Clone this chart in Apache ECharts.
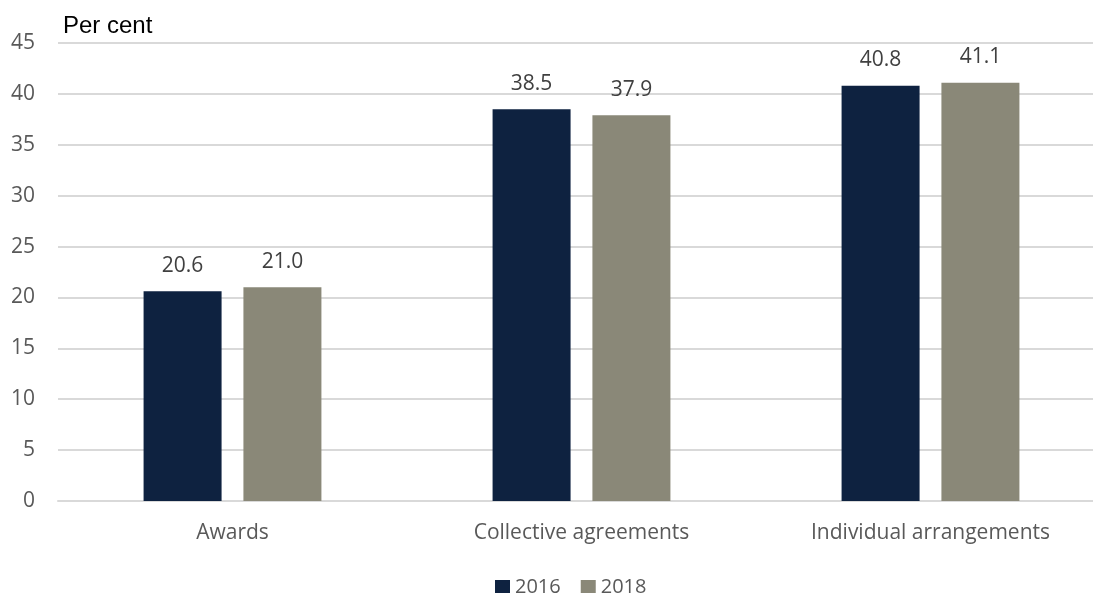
<!DOCTYPE html>
<html><head><meta charset="utf-8">
<script src="https://cdn.jsdelivr.net/npm/echarts@6/dist/echarts.min.js"></script>
<style>html,body{margin:0;padding:0;background:#fff}#c{width:1093px;height:593px}</style>
</head><body><div id="c"></div>
<script>
const categories = ['Awards', 'Collective agreements', 'Individual arrangements'];
const seriesNames = ['2016', '2018'];
const values2016 = [20.6, 38.5, 40.8];
const values2018 = [21.0, 37.9, 41.1];
const colors = ['#0E2240', '#8A8878'];
const font = '"Open Sans", sans-serif';

const chart = echarts.init(document.getElementById('c'));
const mk = (name, data, color) => ({
  name, type: 'bar', data, barWidth: 78, barGap: '28%',
  itemStyle: { color },
  label: { show: true, position: 'top', distance: 15, color: '#404040', fontSize: 21, fontFamily: font,
    formatter: p => p.value.toFixed(1) }
});
chart.setOption({
  animation: false,
  color: colors,
  title: { text: 'Per cent', left: 58, top: 9, textStyle: { fontFamily: 'Liberation Sans, Arial, sans-serif', fontSize: 24, fontWeight: 'normal', color: '#000' } },
  legend: { data: seriesNames, left: 495, top: 577, padding: 0, itemWidth: 15, itemHeight: 14, itemGap: 20,
    icon: 'rect', textStyle: { fontFamily: font, fontSize: 20, color: '#595959' } },
  grid: { left: 58, top: 43, width: 1047, bottom: 92, containLabel: false, outerBoundsMode: 'none' },
  xAxis: { type: 'category', data: categories, axisTick: { show: false },
    axisLine: { show: true, lineStyle: { color: '#D9D9D9', width: 2 } },
    axisLabel: { fontFamily: font, fontSize: 21, color: '#595959', margin: 22 } },
  yAxis: { type: 'value', min: 0, max: 45, interval: 5,
    axisLine: { show: false }, axisTick: { show: false },
    splitLine: { lineStyle: { color: '#D9D9D9', width: 2 } },
    axisLabel: { fontFamily: font, fontSize: 21, color: '#595959', margin: 23 } },
  series: [mk(seriesNames[0], values2016, colors[0]), mk(seriesNames[1], values2018, colors[1])]
});
</script></body></html>
